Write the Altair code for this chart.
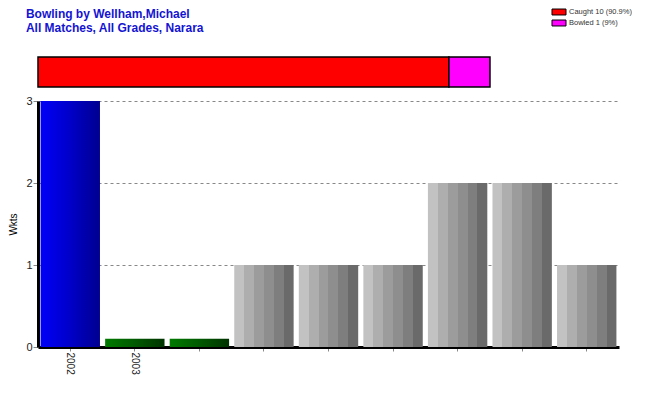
import altair as alt
import pandas as pd

# ---- data ----
x_labels = ["2002", "2003", "", "", "", "", "", "", ""]
wkts = [3, 0.1, 0.1, 1, 1, 1, 2, 2, 1]

how_out = ["Caught", "Bowled"]
how_count = [10, 1]
how_pct = ["90.9%", "9%"]

title_lines = ["Bowling by Wellham,Michael", "All Matches, All Grades, Narara"]

# ---- frames ----
df = pd.DataFrame({"idx": list(range(len(wkts))), "wkts": wkts})
top_df = pd.DataFrame({
    "how": how_out,
    "n": how_count,
    "ord": list(range(len(how_out))),
    "label": [f"{h} {c} ({p})" for h, c, p in zip(how_out, how_count, how_pct)],
    "row": ["all"] * len(how_out),
})

FONT = "Liberation Sans"
W = 581

def grad(colors, stepped=False):
    stops = []
    n = len(colors)
    if stepped:
        for i, c in enumerate(colors):
            stops.append(alt.GradientStop(color=c, offset=i / n))
            stops.append(alt.GradientStop(color=c, offset=(i + 1) / n))
    else:
        for i, c in enumerate(colors):
            stops.append(alt.GradientStop(color=c, offset=i / (n - 1)))
    return alt.Gradient(gradient="linear", stops=stops, x1=0, x2=1, y1=0, y2=0)

blue_g = grad(["#0000F8", "#0000C8", "#000090"])
green_g = grad(["#007A00", "#005A00", "#003300"])
gray_g = grad(["#C2C2C2", "#AEAEAE", "#9C9C9C", "#8E8E8E", "#7E7E7E", "#6A6A6A"], stepped=True)

label_expr = "[" + ",".join(f"'{l}'" for l in x_labels) + "][datum.value]"

base = alt.Chart(df).encode(
    x=alt.X(
        "idx:O",
        scale=alt.Scale(domain=list(range(len(wkts))), paddingInner=0.08, paddingOuter=0.04),
        axis=alt.Axis(
            title=None, labelAngle=90, labelExpr=label_expr, labelFontSize=10,
            labelFont=FONT, labelColor="#222222", labelAlign="left", labelBaseline="middle",
            labelPadding=1, tickSize=4, tickColor="#888888", domainColor="black", domainWidth=3,
            grid=False,
        ),
    ),
    y=alt.Y(
        "wkts:Q",
        scale=alt.Scale(domain=[0, 3]),
        axis=alt.Axis(
            title="Wkts", titleFont=FONT, titleFontSize=10, titleFontWeight="normal",
            titleColor="black", titlePadding=7, values=[0, 1, 2, 3], format="d",
            labelFont=FONT, labelFontSize=11, labelColor="#222222", labelPadding=1,
            tickSize=5, tickColor="#888888", domainColor="black", domainWidth=3,
            grid=True, gridColor="#888888", gridDash=[3, 3], gridWidth=1,
        ),
    ),
)

bars = alt.layer(
    base.transform_filter("datum.idx == 0").mark_bar(color=blue_g),
    base.transform_filter("datum.idx >= 1 && datum.idx <= 2").mark_bar(color=green_g),
    base.transform_filter("datum.idx >= 3").mark_bar(color=gray_g),
).properties(width=W, height=246)

top = alt.Chart(top_df).mark_bar(stroke="black", strokeWidth=1.5).encode(
    x=alt.X("n:Q", stack="zero", scale=alt.Scale(domain=[0, 14.14]), axis=None),
    y=alt.Y("row:N", axis=None, scale=alt.Scale(paddingInner=0, paddingOuter=0)),
    color=alt.Color(
        "label:N",
        scale=alt.Scale(domain=list(top_df["label"]), range=["#FF0000", "#FF00FF"]),
        legend=alt.Legend(
            title=None, orient="none", legendX=517, legendY=-49, padding=0,
            symbolType="M-2,-0.85H2V0.85H-2Z", symbolSize=49,
            symbolStrokeColor="black", symbolStrokeWidth=1,
            labelFont=FONT, labelFontSize=7.5, labelColor="#333333",
            labelOffset=6, rowPadding=1,
        ),
    ),
    order=alt.Order("ord:Q"),
).properties(width=W, height=30)

chart = alt.vconcat(top, bars, spacing=7).properties(
    title=alt.TitleParams(
        text=title_lines, anchor="start", font=FONT, fontSize=12, fontWeight="bold",
        color="#1414D2", lineHeight=14, dx=17, dy=-6, offset=-33,
    ),
    padding=0,
    background="white",
).configure_view(stroke=None)

chart.save("out.html", embed_options={"renderer": "svg", "actions": False})
